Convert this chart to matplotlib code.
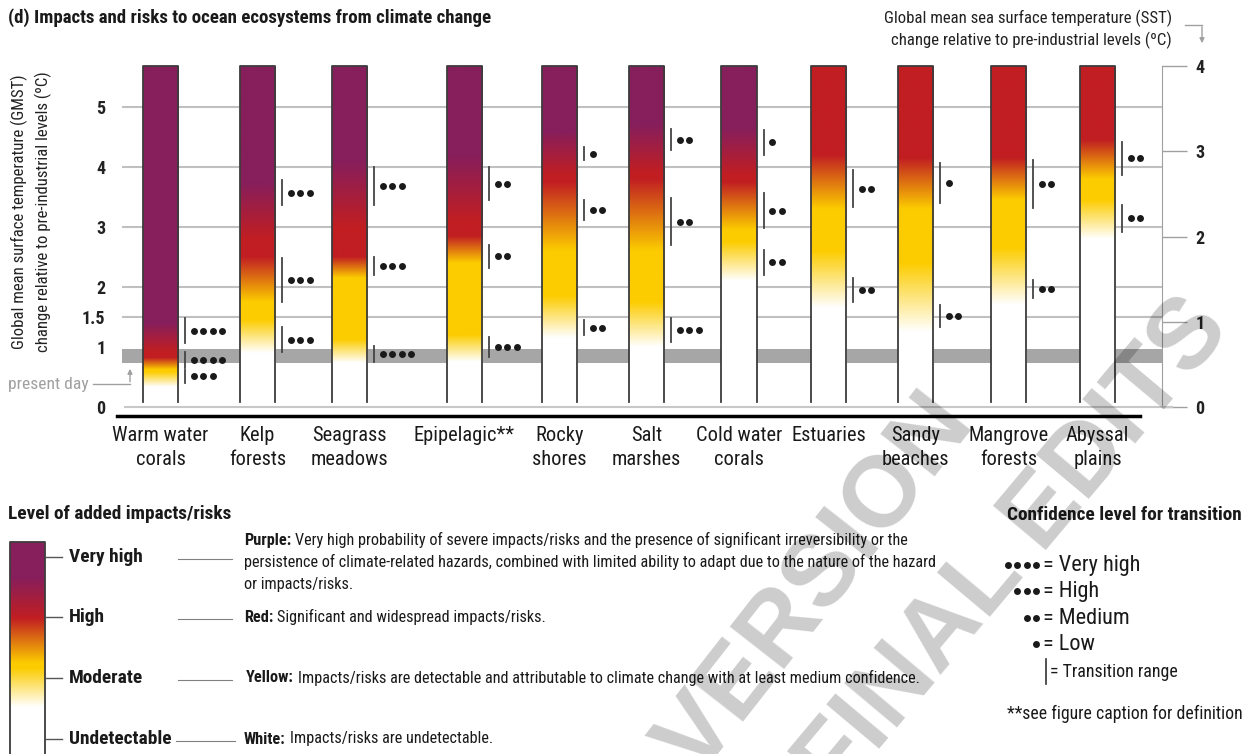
import numpy as np
import matplotlib
matplotlib.use('Agg')
import matplotlib.pyplot as plt
from matplotlib import font_manager

# --- fonts: prefer a narrow sans, otherwise Roboto sized to the reference widths ---
ttf = font_manager.fontManager.ttflist
names = {f.name for f in ttf}
prefs = ['Liberation Sans Narrow', 'Roboto Condensed', 'Open Sans Condensed',
         'Noto Sans Condensed', 'DejaVu Sans Condensed']
cond = sorted(n for n in names if 'narrow' in n.lower() or 'condensed' in n.lower())
FONT = next((p for p in prefs if p in names), cond[0] if cond else None)
STRETCH = 'normal'
if FONT is None:
    if any(f.name == 'DejaVu Sans' and 'condensed' in str(f.stretch) for f in ttf):
        FONT, STRETCH = 'DejaVu Sans', 'condensed'
    else:
        FONT = 'Roboto' if 'Roboto' in names else 'Liberation Sans'
plt.rcParams['font.family'] = [FONT, 'DejaVu Sans']
plt.rcParams['font.stretch'] = STRETCH

# --- data (GMST, deg C) ---
ecosystems = ['Warm water\ncorals', 'Kelp\nforests', 'Seagrass\nmeadows', 'Epipelagic**',
              'Rocky\nshores', 'Salt\nmarshes', 'Cold water\ncorals', 'Estuaries',
              'Sandy\nbeaches', 'Mangrove\nforests', 'Abyssal\nplains']

# colour stops of each bar
white_top     = [0.33, 0.90, 0.73, 0.75, 1.15, 1.00, 2.10, 1.65, 1.25, 1.70, 2.80]
yellow_bottom = [0.58, 1.45, 1.12, 1.20, 1.85, 1.75, 2.75, 2.60, 2.40, 2.65, 3.45]
yellow_top    = [0.62, 1.75, 2.15, 2.40, 2.60, 2.60, 2.95, 3.30, 3.30, 3.45, 3.80]
red_bottom    = [0.82, 2.50, 2.50, 2.85, 3.75, 3.80, 3.75, 4.20, 4.15, 4.15, 4.45]
red_top       = [0.92, 2.80, 3.00, 3.10, 3.85, 3.90, 3.85, np.nan, np.nan, np.nan, np.nan]
purple_bottom = [1.40, 3.75, 4.10, 4.20, 4.60, 4.70, 4.65, np.nan, np.nan, np.nan, np.nan]

# transition ranges (low, high) and confidence (number of dots)
wy_lo   = [0.40, 0.92, 0.75, 0.83, 1.20, 1.08, 2.20, 1.75, 1.33, 1.82, 2.92]
wy_hi   = [0.62, 1.33, 1.02, 1.17, 1.45, 1.48, 2.62, 2.15, 1.70, 2.12, 3.37]
wy_conf = [3, 3, 4, 3, 2, 3, 2, 2, 2, 2, 2]
yr_lo   = [0.65, 1.75, 2.20, 2.32, 3.12, 2.70, 2.98, 3.33, 3.40, 3.32, 3.87]
yr_hi   = [0.92, 2.48, 2.50, 2.70, 3.45, 3.48, 3.57, 3.95, 4.07, 4.12, 4.42]
yr_conf = [4, 3, 3, 2, 2, 2, 2, 2, 1, 2, 2]
rp_lo   = [1.07, 3.37, 3.37, 3.45, 4.12, 4.28, 4.20, np.nan, np.nan, np.nan, np.nan]
rp_hi   = [1.48, 3.78, 4.00, 4.00, 4.33, 4.63, 4.62, np.nan, np.nan, np.nan, np.nan]
rp_conf = [4, 3, 3, 2, 1, 2, 1, 0, 0, 0, 0]

present_day = (0.73, 0.97)
gmst_ticks = [0, 1, 1.5, 2, 3, 4, 5]
sst_ticks = [0, 1, 2, 3, 4]
SST_SCALE = 1.42          # GMST = 1.42 * SST

# --- layout ---
bar_x = [0.385, 1.355, 2.275, 3.425, 4.375, 5.245, 6.17, 7.065, 7.935, 8.865, 9.755]
BAR_W = 0.355
BAR_BOTTOM, BAR_TOP = 0.08, 4 * SST_SCALE

WHITE = np.array([1.0, 1.0, 1.0])
YELLOW = np.array([252, 204, 0]) / 255
RED = np.array([193, 30, 34]) / 255
PURPLE = np.array([134, 31, 92]) / 255
INK = '#1a1a1a'


def bar_rgb(i, n=800):
    y = np.linspace(BAR_BOTTOM, BAR_TOP, n)
    sy = [BAR_BOTTOM, white_top[i], yellow_bottom[i], yellow_top[i], red_bottom[i]]
    sc = [WHITE, WHITE, YELLOW, YELLOW, RED]
    if not np.isnan(purple_bottom[i]):
        sy += [red_top[i], purple_bottom[i]]
        sc += [RED, PURPLE]
    sy.append(BAR_TOP)
    sc.append(sc[-1])
    rgb = np.stack([np.interp(y, sy, [c[k] for c in sc]) for k in range(3)], axis=-1)
    return rgb[:, None, :]


W, H = 1254, 754
fig = plt.figure(figsize=(W / 100, H / 100), dpi=100)
rend = fig.canvas.get_renderer()


def fit(s, width, weight='normal', probe=20):
    # font size that makes string s about `width` pixels wide
    t = fig.text(0, 0, s, fontsize=probe, fontweight=weight)
    w = t.get_window_extent(rend).width
    t.remove()
    return probe * width / w


FS_TITLE = fit('(d) Impacts and risks to ocean ecosystems from climate change', 482, 'bold')
FS_AXT = fit('Global mean sea surface temperature (SST)', 289)
FS_CAT = fit('Warm water', 96)
FS_PD = fit('present day', 80)
FS_LEGT = fit('Level of added impacts/risks', 222, 'bold')
FS_LVL = fit('Undetectable', 102, 'bold')
FS_DESC = fit('persistence of climate-related hazards, combined with limited ability to adapt due to the nature of the hazard', 691)
FS_CONF = fit('= Very high', 97)
FS_TR = fit('= Transition range', 128)
FS_NOTE = fit('**see figure caption for definition', 236)

# main axes: 100 px per x unit, 60 px per deg C, 0 at y=407 px
ax = fig.add_axes([122 / W, (H - 431) / H, 1040 / W, 372 / H])


def gm(py):
    # pixel row -> GMST value on the main axes
    return (407 - py) / 60


for g in [1.5, 2, 3, 4, 5]:
    ax.axhline(g, color='#c0c0c0', lw=1.5, zorder=0.5)
ax.axhspan(*present_day, color='#a6a6a6', lw=0, zorder=1)
ax.plot([0.03, 10.5], [0, 0], color='#c8c8c8', lw=1.5, clip_on=False, zorder=1)
ax.plot([-0.05, 10.18], [gm(416), gm(416)], color='black', lw=2.5, clip_on=False)

for i, x in enumerate(bar_x):
    x0, x1 = x - BAR_W / 2, x + BAR_W / 2
    ax.imshow(bar_rgb(i), extent=[x0, x1, BAR_BOTTOM, BAR_TOP], origin='lower',
              aspect='auto', interpolation='bilinear', zorder=3)
    ax.plot([x0, x0, x1, x1], [BAR_BOTTOM, BAR_TOP, BAR_TOP, BAR_BOTTOM],
            color='#3c3c3c', lw=1.3, zorder=4)
    for k, line in enumerate(ecosystems[i].split('\n')):
        ax.text(x, gm(441 + 24 * k), line, ha='center', va='baseline',
                fontsize=FS_CAT, color=INK, clip_on=False)

    lx = x1 + 0.07
    for lo, hi, conf in [(wy_lo, wy_hi, wy_conf), (yr_lo, yr_hi, yr_conf), (rp_lo, rp_hi, rp_conf)]:
        if np.isnan(lo[i]):
            continue
        ax.plot([lx, lx], [lo[i], hi[i]], color='#444444', lw=1.3, zorder=4)
        xs = lx + 0.085 + 0.095 * np.arange(conf[i])
        ax.plot(xs, [(lo[i] + hi[i]) / 2] * conf[i], 'o', ms=5, color=INK,
                mec='none', zorder=4)

ax.set_xlim(0, 10.4)
ax.set_ylim(-0.4, 5.8)
ax.set_xticks([])
ax.set_yticks(gmst_ticks)
ax.set_yticklabels([f'{t:g}' for t in gmst_ticks], fontweight='bold', color='#222222')
ax.tick_params(axis='y', length=0, pad=12, labelsize=13)
for s in ax.spines.values():
    s.set_visible(False)

sec = ax.secondary_yaxis('right', functions=(lambda g: g / SST_SCALE, lambda s: s * SST_SCALE))
sec.set_yticks(sst_ticks)
sec.set_yticklabels([str(t) for t in sst_ticks], fontweight='bold', color='#222222')
sec.tick_params(length=18, width=1, color='#a0a0a0', pad=6, labelsize=13)
sec.spines['right'].set_color('#a0a0a0')
sec.spines['right'].set_bounds(0, 4)

# --- overlay in pixel coordinates for titles and legends ---
ov = fig.add_axes([0, 0, 1, 1], zorder=10)
ov.patch.set_alpha(0)

ov.text(8, 18, '(d) Impacts and risks to ocean ecosystems from climate change',
        fontsize=FS_TITLE, fontweight='bold', va='center', color=INK)
ov.text(19, 212, 'Global mean surface temperature (GMST)', rotation=90, ha='center',
        va='center', fontsize=FS_AXT, color='#222222')
ov.text(43, 212, 'change relative to pre-industrial levels (ºC)', rotation=90, ha='center',
        va='center', fontsize=FS_AXT, color='#222222')
ov.text(1172, 18, 'Global mean sea surface temperature (SST)', ha='right', va='center',
        fontsize=FS_AXT, color='#222222')
ov.text(1172, 40, 'change relative to pre-industrial levels (ºC)', ha='right', va='center',
        fontsize=FS_AXT, color='#222222')
ov.plot([1185, 1202], [25, 25], color='#a0a0a0', lw=1)
ov.annotate('', xy=(1202, 46), xytext=(1202, 24),
            arrowprops=dict(arrowstyle='-|>', color='#a0a0a0', lw=1, mutation_scale=7))

ov.text(8, 384, 'present day', color='#a0a0a0', fontsize=FS_PD, va='center')
ov.plot([93, 130], [384, 384], color='#a0a0a0', lw=1)
ov.annotate('', xy=(130, 366), xytext=(130, 384.5),
            arrowprops=dict(arrowstyle='-|>', color='#a0a0a0', lw=1, mutation_scale=7))

# risk level legend
ov.text(8, 514, 'Level of added impacts/risks', fontsize=FS_LEGT, fontweight='bold',
        va='center', color=INK)
cy = np.linspace(542, 754, 400)
cb = np.stack([np.interp(cy, [542, 577, 618, 663, 668, 707, 754],
                         [c[k] for c in [PURPLE, PURPLE, RED, YELLOW, YELLOW, WHITE, WHITE]])
               for k in range(3)], axis=-1)[:, None, :]
ov.imshow(cb, extent=(10, 45, 754, 542), origin='upper', aspect='auto', interpolation='bilinear')
ov.plot([10, 10, 45, 45], [756, 542, 542, 756], color='#3c3c3c', lw=1.3, clip_on=False)

level_names = ['Very high', 'High', 'Moderate', 'Undetectable']
level_y = [557, 617, 678, 739]
for lab, y in zip(level_names, level_y):
    ov.plot([46, 62], [y, y], color='#555555', lw=1)
    ov.text(69, y, lab, fontsize=FS_LVL, fontweight='bold', va='center', color=INK)
for (a, b), y in zip([(178, 232), (178, 232), (178, 232), (176, 235)], level_y):
    ov.plot([a, b], [y + 2, y + 2], color='#808080', lw=0.8)


def two_part(x, y, bold, rest):
    t = ov.text(x, y, bold, fontsize=FS_DESC, fontweight='bold', va='center', color=INK)
    wpx = t.get_window_extent(rend).width
    ov.text(x + wpx + 4, y, rest, fontsize=FS_DESC, va='center', color=INK)


two_part(244, 540, 'Purple:', 'Very high probability of severe impacts/risks and the presence of significant irreversibility or the')
ov.text(244, 562, 'persistence of climate-related hazards, combined with limited ability to adapt due to the nature of the hazard',
        fontsize=FS_DESC, va='center', color=INK)
ov.text(244, 584, 'or impacts/risks.', fontsize=FS_DESC, va='center', color=INK)
two_part(244, 617, 'Red:', 'Significant and widespread impacts/risks.')
two_part(246, 678, 'Yellow:', 'Impacts/risks are detectable and attributable to climate change with at least medium confidence.')
two_part(244, 739, 'White:', 'Impacts/risks are undetectable.')

# confidence legend
ov.text(1007, 515, 'Confidence level for transition', fontsize=FS_LEGT, fontweight='bold',
        va='center', color=INK)
conf_names = ['Very high', 'High', 'Medium', 'Low']
conf_y = [565, 591, 618, 644]
for k, (lab, y) in enumerate(zip(conf_names, conf_y)):
    nd = 4 - k
    xs = 1036 - 9.5 * np.arange(nd)
    ov.plot(xs, [y] * nd, 'o', ms=5, color=INK, mec='none')
    ov.text(1043, y, '= ' + lab, fontsize=FS_CONF, va='center', color=INK)
ov.plot([1046, 1046], [659, 684], color='#333333', lw=1.2)
ov.text(1050, 672, '= Transition range', fontsize=FS_TR, va='center', color=INK)
ov.text(1007, 714, '**see figure caption for definition', fontsize=FS_NOTE, va='center', color=INK)

# watermark
ov.text(955, 408, 'VERSION', rotation=52, rotation_mode='anchor', ha='right', va='center',
        fontsize=72, fontweight='bold', family='Liberation Sans', color='black', alpha=0.2, zorder=20)
ov.text(1212, 312, 'FINAL EDITS', rotation=50, rotation_mode='anchor', ha='right', va='center',
        fontsize=72, fontweight='bold', family='Liberation Sans', color='black', alpha=0.2, zorder=20)

ov.set_xlim(0, W)
ov.set_ylim(H, 0)
ov.axis('off')

fig.savefig('out.png', dpi=100)
